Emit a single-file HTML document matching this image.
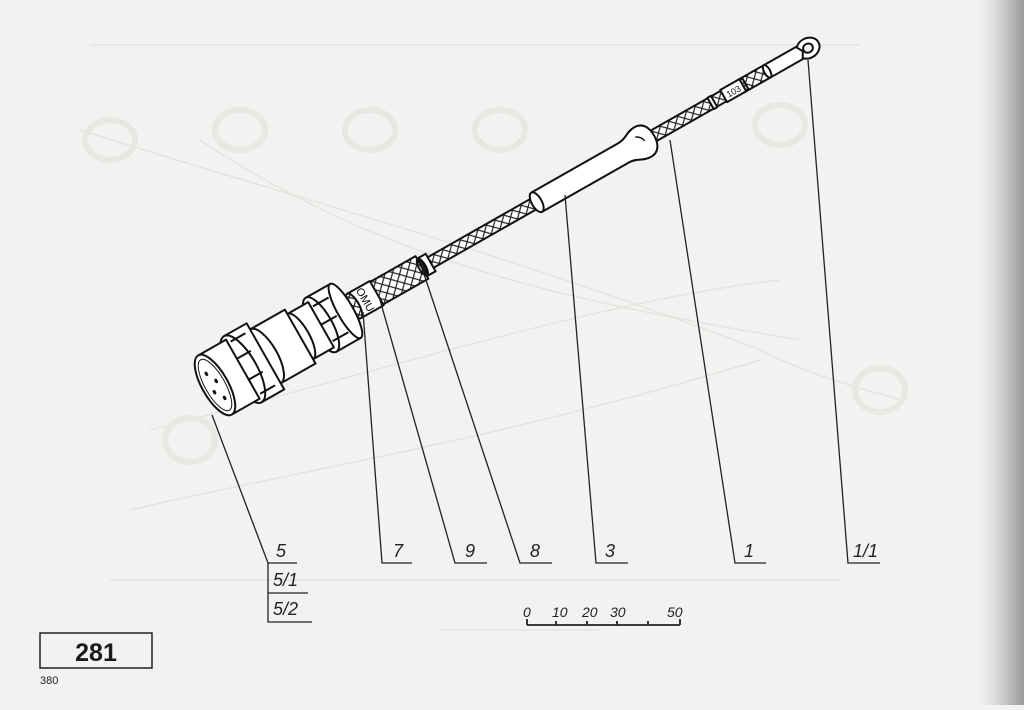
<!DOCTYPE html>
<html><head><meta charset="utf-8"><style>
html,body{margin:0;padding:0;}
body{width:1024px;height:705px;overflow:hidden;background:#f2f2f0;font-family:"Liberation Sans",sans-serif;}
</style></head><body>
<svg width="1024" height="705" viewBox="0 0 1024 705" xmlns="http://www.w3.org/2000/svg">
<defs>
<linearGradient id="edge" x1="0" x2="1" y1="0" y2="0">
<stop offset="0" stop-color="#f2f2f0" stop-opacity="0"/>
<stop offset="0.55" stop-color="#d4d4d2"/>
<stop offset="1" stop-color="#9a9a98"/>
</linearGradient>
<pattern id="hatch" width="10" height="10" patternUnits="userSpaceOnUse">
<rect width="10" height="10" fill="#fff"/>
<path d="M0 0L10 10M10 0L0 10" stroke="#222" stroke-width="1.2"/>
</pattern>
</defs>
<rect x="0" y="0" width="1024" height="705" fill="#f2f2f0"/>
<rect x="970" y="0" width="54" height="705" fill="url(#edge)"/>
<!-- faint ghost lines -->
<g stroke="#e3e3df" stroke-width="1.5" fill="none">
<path d="M90 45 H860"/>
<path d="M110 580 H840"/>
<path d="M80 130 C300 200 500 250 760 350 C820 380 870 390 900 400"/>
<path d="M200 140 C380 260 560 300 800 340"/>
<path d="M130 510 C300 470 500 440 760 360"/>
<path d="M150 430 C350 380 600 300 780 280"/>
<path d="M440 630 H600"/>
</g>
<g fill="none" stroke="#e7e7e3" stroke-width="6">
<ellipse cx="110" cy="140" rx="25" ry="20"/><ellipse cx="240" cy="130" rx="25" ry="20"/>
<ellipse cx="370" cy="130" rx="25" ry="20"/><ellipse cx="500" cy="130" rx="25" ry="20"/>
<ellipse cx="780" cy="125" rx="25" ry="20"/><ellipse cx="880" cy="390" rx="25" ry="22"/>
<ellipse cx="190" cy="440" rx="25" ry="22"/>
</g>

<g transform="translate(215,385) rotate(-29.6)" stroke="#111" stroke-width="2" stroke-linejoin="round">
  <ellipse cx="682" cy="0" rx="12" ry="10" fill="#fff"/>
  <ellipse cx="682" cy="0" rx="5" ry="4.5" fill="#f2f2f0"/>
  <path d="M635 -7 H672 L676 0 L672 7 H635Z" fill="#fff"/>
  <rect x="605" y="-7" width="30" height="14" fill="url(#hatch)"/>
  <ellipse cx="635" cy="0" rx="3" ry="7" fill="#fff"/>
  <rect x="230" y="-6" width="380" height="12" fill="url(#hatch)"/>
  <rect x="585" y="-7" width="22" height="14" fill="#fff"/>
  <text x="596" y="4" font-size="9" text-anchor="middle" stroke="none" fill="#111">103</text>
  <rect x="570" y="-6.5" width="4" height="13" fill="#fff"/>
  <path d="M370 -11 H470 C480 -11 482 -17 492 -17 C502 -17 505 -8 505 0 C505 8 502 17 492 17 C482 17 480 11 470 11 H370Z" fill="#fff"/>
  <path d="M488 -8 C492 -6 494 -3 494 0" fill="none" stroke-width="1.5"/>
  <ellipse cx="370" cy="0" rx="5" ry="11" fill="#fff"/>
  <rect x="238" y="-10" width="10" height="20" fill="#fff"/>
  <ellipse cx="238" cy="0" rx="4" ry="10" fill="#333"/>
  <rect x="150" y="-13" width="88" height="26" fill="url(#hatch)"/>
  <ellipse cx="238" cy="0" rx="3" ry="9" fill="none"/>
  <rect x="160" y="-14" width="26" height="28" fill="#fff"/>
  <text x="173" y="4" font-size="11" text-anchor="middle" stroke="none" fill="#111" transform="rotate(90 173 0)">OMU</text>
  <ellipse cx="160" cy="0" rx="5" ry="14" fill="url(#hatch)"/>
  <rect x="122" y="-31" width="28" height="62" fill="#fff"/>
  <ellipse cx="150" cy="0" rx="8" ry="31" fill="#fff"/>
  <ellipse cx="122" cy="0" rx="11" ry="31" fill="#fff"/>
  <path d="M124 -20 H142 M124 20 H142 M122 0 H140" stroke-width="2"/>
  <rect x="98" y="-26" width="24" height="52" fill="#fff"/>
  <ellipse cx="98" cy="0" rx="9" ry="26" fill="#fff"/>
  <rect x="58" y="-31" width="40" height="62" fill="#fff"/>
  <ellipse cx="58" cy="0" rx="12" ry="31" fill="#fff"/>
  <rect x="32" y="-38" width="26" height="76" fill="#fff"/>
  <ellipse cx="32" cy="0" rx="14" ry="38" fill="#fff"/>
  <path d="M35 -30 H52 M35 30 H52 M30 -12 H48 M30 12 H48" stroke-width="2"/>
  <rect x="0" y="-34" width="32" height="68" fill="#fff"/>
  <ellipse cx="0" cy="0" rx="13" ry="34" fill="#fff"/>
  <ellipse cx="0" cy="0" rx="10" ry="29" fill="none" stroke-width="1"/>
  <g fill="#111" stroke="none">
    <ellipse cx="-2" cy="-14" rx="1.6" ry="2.4"/><ellipse cx="3" cy="-3" rx="1.6" ry="2.4"/>
    <ellipse cx="-4" cy="6" rx="1.6" ry="2.4"/><ellipse cx="2" cy="16" rx="1.6" ry="2.4"/>
  </g>
</g>

<g stroke="#222" stroke-width="1.3" fill="none">
<path d="M212 415 L268 563 H297"/>
<path d="M268 563 V593 H308 M268 593 V622 H312"/>
<path d="M363 312 L382 563 H412"/>
<path d="M380 300 L455 563 H487"/>
<path d="M422 268 L520 563 H552"/>
<path d="M565 195 L596 563 H628"/>
<path d="M670 140 L735 563 H766"/>
<path d="M808 60 L848 563 H880"/>
<path d="M527 625 H680 M527 619 V625 M556 621 V625 M587 621 V625 M617 621 V625 M648 621 V625 M680 619 V625" stroke-width="1.8"/>
</g>
<g font-family="'Liberation Sans',sans-serif" font-style="italic" font-size="18" fill="#222">
<text x="276" y="557">5</text>
<text x="273" y="586">5/1</text>
<text x="273" y="615">5/2</text>
<text x="393" y="557">7</text>
<text x="465" y="557">9</text>
<text x="530" y="557">8</text>
<text x="605" y="557">3</text>
<text x="744" y="557">1</text>
<text x="853" y="557">1/1</text>
</g>
<g font-family="'Liberation Sans',sans-serif" font-style="italic" font-size="14" fill="#222">
<text x="523" y="617">0</text>
<text x="552" y="617">10</text>
<text x="582" y="617">20</text>
<text x="610" y="617">30</text>
<text x="667" y="617">50</text>
</g>
<rect x="40" y="633" width="112" height="35" fill="none" stroke="#222" stroke-width="1.5"/>
<text x="96" y="661" font-size="25" font-weight="bold" text-anchor="middle" fill="#1a1a1a">281</text>
<text x="40" y="684" font-size="11" fill="#222">380</text>
</svg>
</body></html>
